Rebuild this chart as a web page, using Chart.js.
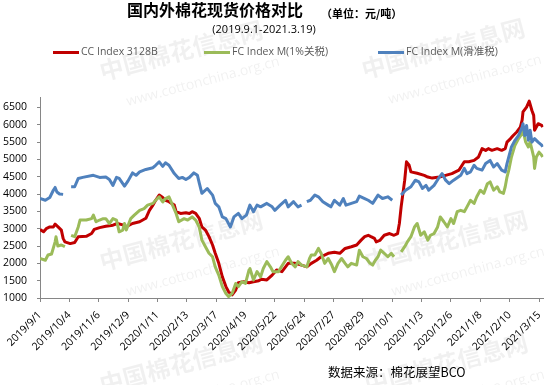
<!DOCTYPE html>
<html lang="zh">
<head>
  <meta charset="UTF-8" />
  <title>国内外棉花现货价格对比</title>
  <script src="https://cdn.jsdelivr.net/npm/chart.js"></script>
  <style>
    html, body { margin: 0; padding: 0; background: #fff; }
    #wrap { width: 555px; height: 385px; }
  </style>
</head>
<body>
  <div id="wrap"><canvas id="priceChart" width="555" height="385"></canvas></div>

  <script>
    // x values are days counted from 2019/9/1, null = no quote (gap in the line)
    const tickLabels = ['2019/9/1', '2019/10/4', '2019/11/6', '2019/12/9', '2020/1/11', '2020/2/13',
      '2020/3/17', '2020/4/19', '2020/5/22', '2020/6/24', '2020/7/27', '2020/8/29', '2020/10/1',
      '2020/11/3', '2020/12/6', '2021/1/8', '2021/2/10', '2021/3/15'];
    const yTicks = [1000, 1500, 2000, 2500, 3000, 3500, 4000, 4500, 5000, 5500, 6000, 6500];

    const seriesNames = ['CC Index 3128B', 'FC Index M(1%关税)', 'FC Index M(滑准税)'];

    const ccDay = [0,4,7,11,15,17,20,24,26,28,34,39,43,52,58,61,67,74,82,87,93,97,104,112,119,123,127,130,134,138,
      141,145,151,153,158,164,168,171,175,179,182,186,190,194,197,201,205,209,212,216,220,223,229,235,240,246,249,255,261,266,
      272,279,287,294,300,305,311,316,324,331,337,343,350,356,361,365,369,372,376,378,382,387,393,398,402,404,406,410,412,415,
      417,424,432,436,441,449,456,463,471,477,482,488,493,497,501,504,508,514,519,523,525,529,532,536,540,542,543,547,550,553,
      555,556,560,564,565];
    const ccPrice = [2980,2910,3000,3050,3050,3130,3060,2960,2720,2620,2570,2600,2770,2780,2860,2980,3030,3070,3100,3150,
      3110,3060,3150,3200,3300,3530,3680,3820,3970,3900,3820,3780,3680,3490,3440,3460,3440,3490,3440,3300,
      3050,2960,2770,2530,2290,2000,1610,1330,1180,1090,1230,1440,1470,1440,1470,1500,1540,1520,1660,1810,
      1760,2000,2000,1950,1900,2000,2090,2190,2290,2320,2290,2430,2480,2530,2670,2770,2810,2770,2720,2620,
      2660,2810,2860,2810,2860,3150,3630,4400,4930,4830,4640,4600,4540,4490,4460,4490,4540,4590,4690,4930,
      4930,4970,5070,5310,5260,5310,5260,5310,5260,5310,5500,5600,5690,5790,5930,6130,6370,6510,6680,6410,
      6270,5840,6030,5980,5930];

    const fc1Day = [0,6,9,13,17,18,20,24,28,31,35,39,43,45,52,58,60,63,67,71,74,78,82,86,89,93,95,97,102,106,
      112,117,121,127,130,134,138,141,145,149,153,156,162,166,171,175,179,182,186,190,194,197,201,205,209,212,216,220,223,227,
      231,235,236,240,244,248,251,255,259,262,268,276,279,283,287,290,294,300,303,305,309,313,316,320,324,328,331,335,339,343,
      346,350,356,359,363,367,371,374,377,380,383,387,391,395,398,401,406,410,413,417,421,424,428,432,436,439,443,447,450,454,
      458,462,465,469,473,477,480,484,488,491,495,499,503,506,510,514,517,521,523,525,527,530,534,538,542,543,546,549,551,555,
      556,558,561,564,565];
    const fc1Price = [2140,2090,2240,2270,2620,2770,2500,2530,2480,null,2810,2770,3050,3250,3250,3290,3390,3200,3250,3290,
      3290,3150,3290,3250,2910,2960,3150,2960,3290,3390,3530,3580,3680,3730,3820,3920,3770,3870,3920,3680,
      3440,3200,3290,3250,3340,3250,3050,2670,2480,2290,2190,1900,1660,1330,1130,1040,1130,1420,1330,1470,
      1420,1810,1850,1520,1760,1610,1850,2050,1900,1760,1760,2090,2190,2000,1900,2050,1950,1900,2140,2240,
      2240,2430,2290,2000,2140,1950,1760,2000,2140,2000,1900,2000,1950,2380,2190,2140,2000,1950,2090,2190,
      2380,2290,2190,2290,2190,null,2330,2480,2620,2770,3050,3150,2810,2910,2670,2810,2860,3050,3340,3200,
      3050,3290,3150,3490,3530,3490,3630,3820,3730,3920,4110,4020,4300,4350,4110,4210,4060,4020,4210,4490,
      4690,5070,5410,5600,5740,5840,5500,5360,5500,5070,4740,5070,5210,5120,5070];

    const fcsDay = [0,6,11,15,17,19,22,26,30,35,39,43,48,60,67,74,78,82,86,89,95,99,104,108,112,119,127,130,134,138,
      141,145,151,156,160,164,168,173,177,179,182,188,194,197,201,205,209,214,218,223,227,232,236,240,244,248,255,261,264,270,
      276,279,285,290,294,297,300,304,309,313,318,324,327,331,337,341,344,350,356,359,365,369,374,380,385,391,396,400,406,411,
      417,422,426,430,434,437,443,449,452,456,460,465,473,477,480,484,488,491,497,501,506,510,514,519,523,525,527,530,534,538,
      542,543,545,547,549,551,553,556,560,564,565];
    const fcsPrice = [3870,3820,3900,4110,4190,4060,4000,3990,null,4210,4210,4450,4480,4540,4480,4490,4420,4250,4480,4450,
      4230,4380,4610,4540,4640,4710,4760,4830,4930,4800,4900,4830,4590,4450,4480,4420,4480,4610,4540,4320,
      4020,4160,3970,3730,3630,3340,3290,3050,3340,3440,3290,3390,3680,3490,3680,3630,3730,3630,3530,3680,
      3820,3630,3780,3630,3680,null,3780,3820,3970,3920,3780,3680,3630,3820,3680,3870,3680,3730,3780,3940,
      3870,3820,3730,3970,3870,3920,3820,null,3970,4110,4210,4400,4350,4160,4250,4110,4250,4490,4590,4400,
      4300,4400,4540,4740,4590,4640,4830,4740,4690,4880,4970,4780,4880,4690,4640,4880,5070,5360,5550,5690,
      5930,6030,5690,5980,5550,5840,5500,5600,5500,5410,5360];

    const startUTC = Date.UTC(2019, 8, 1);
    const tickDays = tickLabels.map(s => {
      const [y, m, d] = s.split('/').map(Number);
      return Math.round((Date.UTC(y, m - 1, d) - startUTC) / 86400000);
    });

    const toPoints = (days, vals) => days.map((d, i) => ({ x: d, y: vals[i] }));

    const CJK = '"Noto Sans CJK SC", sans-serif';
    const LATIN = '"Open Sans", "Noto Sans CJK SC", sans-serif';

    // faint site watermark, drawn under the lines
    const watermark = {
      id: 'watermark',
      beforeDatasetsDraw(chart) {
        const ctx = chart.ctx;
        const spots = [[100, 72], [362, 70], [100, 262], [365, 262], [100, 385], [365, 385]];
        ctx.save();
        ctx.fillStyle = 'rgba(0,0,0,0.06)';
        spots.forEach(([x, y]) => {
          ctx.save();
          ctx.translate(x, y);
          ctx.rotate(-0.26);
          ctx.font = 'bold 24px ' + CJK;
          ctx.textBaseline = 'middle';
          ctx.fillText('中国棉花信息网', 0, 0);
          ctx.font = '14px ' + LATIN;
          ctx.fillText('www.cottonchina.org.cn', 18, 36);
          ctx.restore();
        });
        ctx.restore();
      }
    };

    const texts = {
      id: 'texts',
      beforeDraw(chart) {
        const ctx = chart.ctx;
        ctx.save();
        ctx.fillStyle = '#fff';
        ctx.fillRect(0, 0, chart.width, chart.height);
        ctx.restore();
      },
      afterDraw(chart) {
        const ctx = chart.ctx;
        ctx.save();
        ctx.fillStyle = '#000';
        ctx.textBaseline = 'middle';
        ctx.textAlign = 'left';
        ctx.font = 'bold 16px ' + CJK;
        ctx.fillText('国内外棉花现货价格对比', 127, 10);
        ctx.font = 'bold 11px ' + CJK;
        ctx.fillText('（单位：元/吨）', 321, 14);
        ctx.font = '11px ' + LATIN;
        ctx.textAlign = 'center';
        ctx.fillText('(2019.9.1-2021.3.19)', 264, 30);
        ctx.textAlign = 'left';
        ctx.font = '12.5px ' + CJK;
        ctx.fillText('数据来源：棉花展望BCO', 328, 372);

        // legend
        const legendX = [53, 204, 378];
        ctx.font = '10.5px ' + LATIN;
        chart.data.datasets.forEach((ds, i) => {
          ctx.fillStyle = ds.borderColor;
          ctx.fillRect(legendX[i], 51, 26, 3);
          ctx.fillStyle = '#595959';
          ctx.fillText(ds.label, legendX[i] + 28, 52.5);
        });
        ctx.restore();
      }
    };

    const axisColor = '#868686';

    new Chart(document.getElementById('priceChart').getContext('2d'), {
      type: 'line',
      data: {
        datasets: [
          { label: seriesNames[0], data: toPoints(ccDay, ccPrice), borderColor: '#C00000', order: 3 },
          { label: seriesNames[1], data: toPoints(fc1Day, fc1Price), borderColor: '#9BBB59', order: 2 },
          { label: seriesNames[2], data: toPoints(fcsDay, fcsPrice), borderColor: '#4F81BD', order: 1 }
        ]
      },
      options: {
        responsive: false,
        animation: false,
        spanGaps: false,
        elements: {
          line: { borderWidth: 3, tension: 0, fill: false, borderJoinStyle: 'round' },
          point: { radius: 0, hoverRadius: 0 }
        },
        layout: { padding: { top: 97, right: 8, left: 0, bottom: 0 } },
        plugins: {
          legend: { display: false },
          tooltip: { enabled: false }
        },
        scales: {
          x: {
            type: 'linear',
            min: 0,
            max: 566,
            afterBuildTicks: s => { s.ticks = tickDays.map(v => ({ value: v })); },
            afterFit: s => { s.height = 87; },
            ticks: {
              autoSkip: false,
              minRotation: 45,
              maxRotation: 45,
              padding: 7,
              color: '#000',
              font: { family: LATIN, size: 10.5 },
              callback: v => tickLabels[tickDays.indexOf(v)]
            },
            grid: { drawOnChartArea: false, tickLength: 4, color: axisColor },
            border: { color: axisColor }
          },
          y: {
            min: 1000,
            max: 6800,
            afterBuildTicks: s => { s.ticks = yTicks.map(v => ({ value: v })); },
            afterFit: s => { s.width = 40; },
            ticks: {
              padding: 10,
              color: '#000',
              font: { family: LATIN, size: 10.5 },
              callback: v => String(v)
            },
            grid: { drawOnChartArea: false, tickLength: 3, color: axisColor },
            border: { color: axisColor }
          }
        }
      },
      plugins: [texts, watermark]
    });
  </script>
</body>
</html>
